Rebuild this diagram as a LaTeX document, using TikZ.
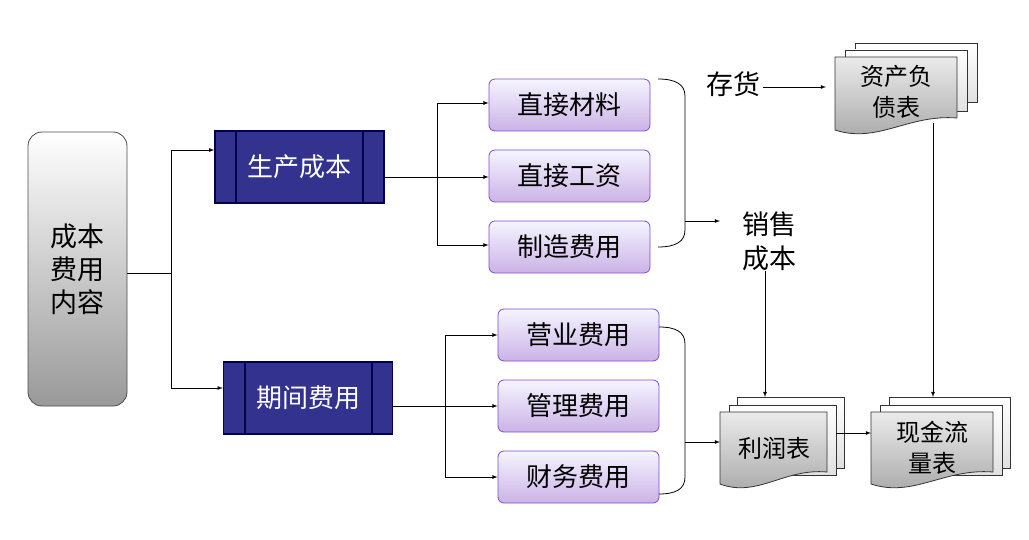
\documentclass[tikz,border=0pt]{standalone}
\usepackage{fontspec}
\setmainfont{Noto Sans CJK SC}
\begin{document}
\begin{tikzpicture}[x=1pt,y=-1pt,
  txt/.style={font=\fontsize{26}{30}\selectfont, inner sep=0pt},
  lav/.style={draw=blue!45!violet!70, line width=0.8pt, rounded corners=6pt, top color=blue!4, bottom color=blue!35!violet!30, minimum width=161pt, minimum height=52pt, font=\fontsize{26}{30}\selectfont},
  proc/.style={draw=blue!30!black, line width=1.5pt, fill=blue!45!black!80, text=white, minimum width=169pt, minimum height=72pt, font=\fontsize{26}{30}\selectfont},
  ln/.style={draw=black, line width=0.8pt},
  arr/.style={ln, -latex},
  page/.style={draw=black!80, line width=0.8pt, top color=white, bottom color=black!12},
  front/.style={draw=black!80, line width=0.8pt, top color=black!8, bottom color=black!35}]
\useasboundingbox (0,0) rectangle (1029,540);
\newcommand{\pg}[5]{\path[#5] (#1,#2) rectangle (#3,#4);}
\newcommand{\docf}[4]{\path[front] (#1,#2) -- (#3,#2) -- (#3,{#4-12}) .. controls ({#1+0.6*(#3-#1)},{#4-16}) and ({#1+0.35*(#3-#1)},{#4+14}) .. (#1,#4) -- cycle;}

% main
\node[draw=black!70, line width=0.8pt, rounded corners=14pt, top color=white, bottom color=black!40, minimum width=99pt, minimum height=274pt, align=center, font=\fontsize{27}{33}\selectfont] (main) at (77.5,269) {成本\\费用\\内容};

\node[proc] (sc) at (299.5,167) {};
\node[txt, text=white] at (sc) {生产成本};
\draw[blue!30!black, line width=1.5pt] (236,131) -- (236,203) (363,131) -- (363,203);
\node[proc] (qj) at (308,398) {};
\node[txt, text=white] at (qj) {期间费用};
\draw[blue!30!black, line width=1.5pt] (245,362) -- (245,434) (372,362) -- (372,434);

\coordinate (j1) at (171,273);
\draw[ln] (main.east |- j1) -- (j1);
\draw[ln] (171,150) -- (171,388);
\draw[arr] (171,150) -- (sc.west |- 0,150);
\draw[arr] (171,388) -- (qj.west |- 0,388);

\node[lav] (a1) at (569.5,105) {直接材料};
\node[lav] (a2) at (569.5,176) {直接工资};
\node[lav] (a3) at (569.5,247) {制造费用};
\node[lav] (b1) at (578.5,335) {营业费用};
\node[lav] (b2) at (578.5,406) {管理费用};
\node[lav] (b3) at (578.5,477) {财务费用};

\draw[ln] (sc.east |- 0,177) -- (437,177);
\draw[ln] (437,103) -- (437,245);
\draw[arr] (437,103) -- (a1.west |- 0,103);
\draw[arr] (437,177) -- (a2.west |- 0,177);
\draw[arr] (437,245) -- (a3.west |- 0,245);

\draw[ln] (qj.east |- 0,406) -- (445,406);
\draw[ln] (445,335) -- (445,477);
\draw[arr] (445,335) -- (b1.west |- 0,335);
\draw[arr] (445,406) -- (b2.west |- 0,406);
\draw[arr] (445,477) -- (b3.west |- 0,477);

% braces
\draw[ln] (658,79) .. controls (675,79) and (685,84) .. (685,96) -- (685,230) .. controls (685,242) and (675,247) .. (658,247);
\draw[ln] (659,327) .. controls (676,327) and (685,332) .. (685,344) -- (685,477) .. controls (685,489) and (676,494) .. (659,494);

\node[txt, align=center, font=\fontsize{27}{34}\selectfont] (xs) at (769,241) {销售\\成本};
\node[txt, font=\fontsize{27}{30}\selectfont] (ch) at (733,84) {存货};
\coordinate (bt) at (685,221);
\draw[arr] (bt) -- (720,221);

% docs
\pg{855}{43}{977}{102}{page}
\pg{845}{50}{967}{111}{page}
\docf{835}{57}{957}{130}
\node[txt, align=center, font=\fontsize{24}{31}\selectfont] (zc) at (896,92) {资产负\\债表};

\pg{737}{397}{844}{468}{page}
\pg{729}{405}{836}{475}{page}
\docf{720}{412}{827}{484}
\node[txt, font=\fontsize{24}{30}\selectfont] (lr) at (774,448) {利润表};

\pg{889}{397}{1010}{468}{page}
\pg{880}{405}{1002}{475}{page}
\docf{871}{412}{993}{484}
\node[txt, align=center, font=\fontsize{24}{31}\selectfont] (xj) at (932,448) {现金流\\量表};

\coordinate (zcin) at (826,87);
\draw[arr] (ch.east) ++(3,3) -- (zcin);
\coordinate (lrtop) at (765,397);
\draw[arr] (xs.south -| lrtop) -- (lrtop);
\coordinate (xjtop) at (933,397);
\draw[arr] (933,123) -- (xjtop);
\draw[arr] (685,442) -- (720,442);
\coordinate (lrout) at (836,433);
\draw[arr] (lrout) -- (871,433);
\end{tikzpicture}
\end{document}
